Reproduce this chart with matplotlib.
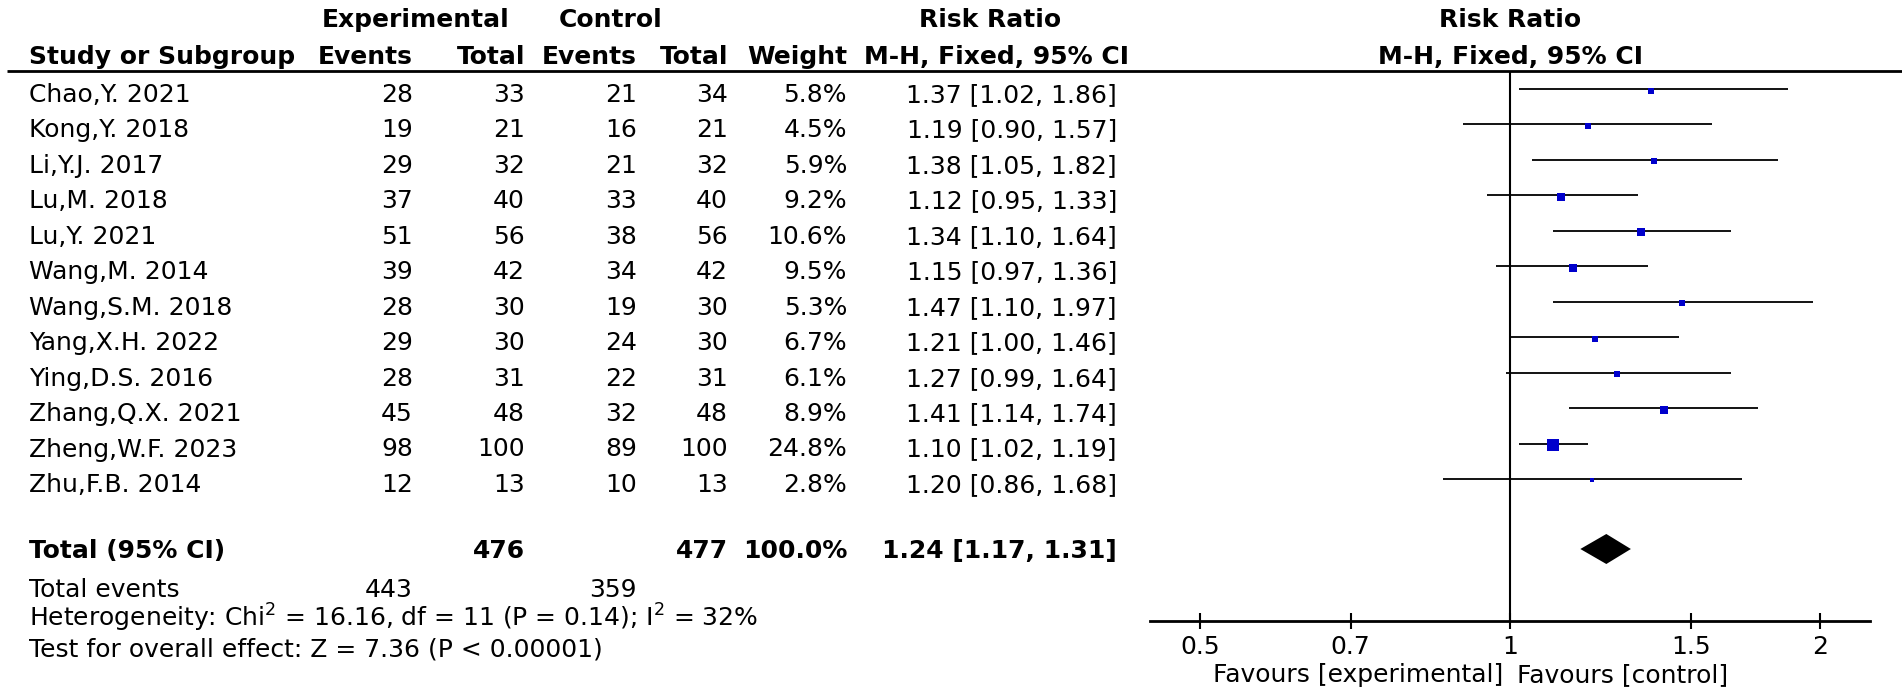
import matplotlib.pyplot as plt
import numpy as np
from matplotlib.ticker import NullLocator

# Study data
studies = ['Chao,Y. 2021', 'Kong,Y. 2018', 'Li,Y.J. 2017', 'Lu,M. 2018', 'Lu,Y. 2021',
           'Wang,M. 2014', 'Wang,S.M. 2018', 'Yang,X.H. 2022', 'Ying,D.S. 2016',
           'Zhang,Q.X. 2021', 'Zheng,W.F. 2023', 'Zhu,F.B. 2014']
exp_events = [28, 19, 29, 37, 51, 39, 28, 29, 28, 45, 98, 12]
exp_total = [33, 21, 32, 40, 56, 42, 30, 30, 31, 48, 100, 13]
ctl_events = [21, 16, 21, 33, 38, 34, 19, 24, 22, 32, 89, 10]
ctl_total = [34, 21, 32, 40, 56, 42, 30, 30, 31, 48, 100, 13]
weights = [5.8, 4.5, 5.9, 9.2, 10.6, 9.5, 5.3, 6.7, 6.1, 8.9, 24.8, 2.8]
rr = [1.37, 1.19, 1.38, 1.12, 1.34, 1.15, 1.47, 1.21, 1.27, 1.41, 1.10, 1.20]
ci_low = [1.02, 0.90, 1.05, 0.95, 1.10, 0.97, 1.10, 1.00, 0.99, 1.14, 1.02, 0.86]
ci_high = [1.86, 1.57, 1.82, 1.33, 1.64, 1.36, 1.97, 1.46, 1.64, 1.74, 1.19, 1.68]

# Pooled result
total_exp, total_ctl = 476, 477
events_exp, events_ctl = 443, 359
pooled_rr, pooled_low, pooled_high = 1.24, 1.17, 1.31
heterogeneity = 'Heterogeneity: Chi$^2$ = 16.16, df = 11 (P = 0.14); I$^2$ = 32%'
overall = 'Test for overall effect: Z = 7.36 (P < 0.00001)'

tick_vals = [0.5, 0.7, 1, 1.5, 2]
tick_labels = ['0.5', '0.7', '1', '1.5', '2']

plt.rcParams['font.family'] = ['DejaVu Sans']
W, H = 1902, 695
fig = plt.figure(figsize=(W / 100, H / 100), dpi=100)

# table area works in pixel coordinates
ax = fig.add_axes([0, 0, 1, 1])
ax.set_xlim(0, W)
ax.set_ylim(H, 0)
ax.axis('off')

fs = 18
cols = [413, 525, 637, 728, 847, 1117]  # right edges of the numeric columns
row_y = [93 + 35.45 * i for i in range(len(studies))]
off = 9  # cap-centre to baseline

# headers
ax.text(416, 27, 'Experimental', ha='center', va='baseline', fontsize=fs, fontweight='bold')
ax.text(611, 27, 'Control', ha='center', va='baseline', fontsize=fs, fontweight='bold')
ax.text(990, 27, 'Risk Ratio', ha='center', va='baseline', fontsize=fs, fontweight='bold')
ax.text(1510, 27, 'Risk Ratio', ha='center', va='baseline', fontsize=fs, fontweight='bold')
ax.text(29, 64, 'Study or Subgroup', ha='left', va='baseline', fontsize=fs, fontweight='bold')
for x, lab in zip(cols[:5], ['Events', 'Total', 'Events', 'Total', 'Weight']):
    ax.text(x, 64, lab, ha='right', va='baseline', fontsize=fs, fontweight='bold')
ax.text(997, 64, 'M-H, Fixed, 95% CI', ha='center', va='baseline', fontsize=fs, fontweight='bold')
ax.text(1510, 64, 'M-H, Fixed, 95% CI', ha='center', va='baseline', fontsize=fs, fontweight='bold')
ax.plot([7, W], [71, 71], color='black', lw=2, solid_capstyle='butt')

# study rows
for i, name in enumerate(studies):
    y = row_y[i] + off
    ax.text(29, y, name, ha='left', va='baseline', fontsize=fs)
    vals = [exp_events[i], exp_total[i], ctl_events[i], ctl_total[i],
            f'{weights[i]:.1f}%', f'{rr[i]:.2f} [{ci_low[i]:.2f}, {ci_high[i]:.2f}]']
    for x, v in zip(cols, vals):
        ax.text(x, y, str(v), ha='right', va='baseline', fontsize=fs)

# total row
ty = 549
ax.text(29, ty + off, 'Total (95% CI)', ha='left', va='baseline', fontsize=fs, fontweight='bold')
for x, v in zip(cols[1::2], [total_exp, total_ctl]):
    ax.text(x, ty + off, str(v), ha='right', va='baseline', fontsize=fs, fontweight='bold')
ax.text(cols[4], ty + off, '100.0%', ha='right', va='baseline', fontsize=fs, fontweight='bold')
ax.text(cols[5], ty + off, f'{pooled_rr:.2f} [{pooled_low:.2f}, {pooled_high:.2f}]',
        ha='right', va='baseline', fontsize=fs, fontweight='bold')

ax.text(29, 588 + off, 'Total events', ha='left', va='baseline', fontsize=fs)
ax.text(cols[0], 588 + off, str(events_exp), ha='right', va='baseline', fontsize=fs)
ax.text(cols[2], 588 + off, str(events_ctl), ha='right', va='baseline', fontsize=fs)
ax.text(29, 618 + off, heterogeneity, ha='left', va='baseline', fontsize=fs)
ax.text(29, 648 + off, overall, ha='left', va='baseline', fontsize=fs)

# forest plot on a log axis
fax = fig.add_axes([1150 / W, 0, 720 / W, 1])
fax.set_xscale('log')
fax.set_xlim(0.447, 2.236)
fax.set_ylim(H, 0)
fax.patch.set_visible(False)
for s in ['top', 'left', 'right']:
    fax.spines[s].set_visible(False)
fax.spines['bottom'].set_position(('data', 621))
fax.spines['bottom'].set_linewidth(2)
fax.yaxis.set_visible(False)
fax.set_xticks(tick_vals)
fax.set_xticklabels(tick_labels)
fax.xaxis.set_minor_locator(NullLocator())
fax.tick_params(axis='x', direction='inout', length=11.5, width=1.5, labelsize=fs, pad=4)

fax.vlines(1, 71, 621, color='black', lw=1.5)
line_y = [y - 4 for y in row_y]
fax.hlines(line_y, ci_low, ci_high, color='black', lw=1.3)
for i in range(len(studies)):
    side = 2.6 * np.sqrt(weights[i]) * 0.72
    fax.plot(rr[i], line_y[i] + 1.5, marker='s', color='#0000CC', markersize=side,
             markeredgewidth=0, linestyle='none')

fax.fill([pooled_low, pooled_rr, pooled_high, pooled_rr],
         [ty, ty - 15, ty, ty + 15], color='black', lw=0)

fax.text(0.985, 682, 'Favours [experimental]', ha='right', va='baseline', fontsize=fs)
fax.text(1.015, 682, 'Favours [control]', ha='left', va='baseline', fontsize=fs)

fig.savefig('out.png', dpi=100)
